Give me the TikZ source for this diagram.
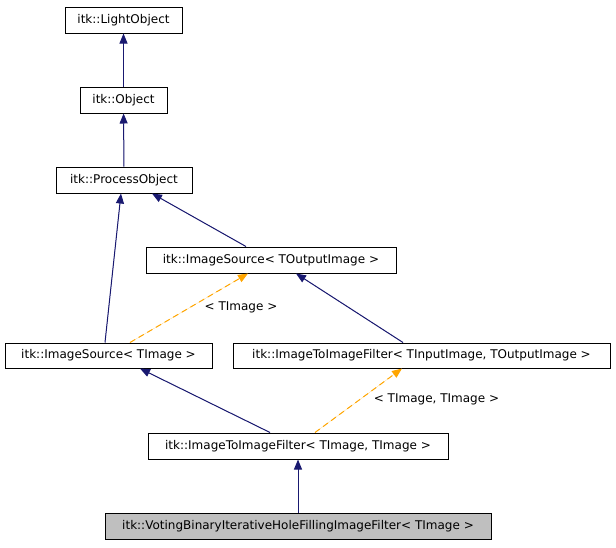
\documentclass[tikz,border=0pt]{standalone}
\usepackage{fontspec}
\setmainfont{DejaVu Sans}
\usepackage{xcolor}
\usetikzlibrary{arrows.meta, positioning}
\definecolor{edgeblue}{HTML}{191970}
\definecolor{edgeorange}{HTML}{FFA500}
\tikzset{
  classbox/.style={rectangle, draw=black, fill=white, line width=1pt,
                   minimum height=26pt, inner sep=0pt, text centered,
                   font=\fontsize{12}{14}\selectfont},
  arrow/.style={-{Triangle[length=10pt, width=8pt]}, draw=edgeblue, fill=edgeblue,
                line width=1pt},
  darrow/.style={-{Triangle[length=10pt, width=8pt]}, draw=edgeorange, fill=edgeorange,
                 line width=1pt, dash pattern=on 6pt off 4pt},
  label/.style={font=\fontsize{12}{14}\selectfont, text=black, inner sep=1pt},
}
\begin{document}
\begin{tikzpicture}[x=1pt, y=-1pt]
  \useasboundingbox (0,0) rectangle (616,547);

  \node[classbox, minimum width=117pt] (light) at (123.5,20) {itk::LightObject};
  \node[classbox, minimum width=87pt] (obj) at (123.5,100) {itk::Object};
  \node[classbox, minimum width=136pt] (proc) at (124,180) {itk::ProcessObject};
  \node[classbox, minimum width=250pt] (srcout) at (271,260) {itk::ImageSource< TOutputImage >};
  \node[classbox, minimum width=207pt, minimum height=25pt] (srcimg) at (108.5,355.5) {itk::ImageSource< TImage >};
  \node[classbox, minimum width=377pt, minimum height=25pt] (itfout) at (421.5,355.5)
    {itk::ImageToImageFilter< TInputImage, TOutputImage >};
  \node[classbox, minimum width=300pt] (itfimg) at (298,446) {itk::ImageToImageFilter< TImage, TImage >};
  \node[classbox, minimum width=386pt, fill=black!25] (vote) at (298,526)
    {itk::VotingBinaryIterativeHoleFillingImageFilter< TImage >};

  \draw[arrow] (obj) -- (light);
  \draw[arrow] (proc) -- (obj);
  \draw[arrow] ([xshift=-3.5pt]srcimg.north) -- ([xshift=-3pt]proc.south);
  \draw[arrow] ([xshift=-25pt]srcout.north) -- ([xshift=28pt]proc.south);
  \draw[darrow] ([xshift=21.5pt]srcimg.north) -- node[label, pos=0.51, anchor=west, xshift=13pt] {< TImage >}
    ([xshift=-23pt]srcout.south);
  \draw[arrow] ([xshift=-18.5pt]itfout.north) -- ([xshift=25pt]srcout.south);
  \draw[arrow] ([xshift=-28pt]itfimg.north) -- ([xshift=31.5pt]srcimg.south);
  \draw[darrow] ([xshift=17pt]itfimg.north) -- node[label, pos=0.51, anchor=west, xshift=13pt] {< TImage, TImage >}
    ([xshift=-19.5pt]itfout.south);
  \draw[arrow] (vote) -- (itfimg);
\end{tikzpicture}
\end{document}
